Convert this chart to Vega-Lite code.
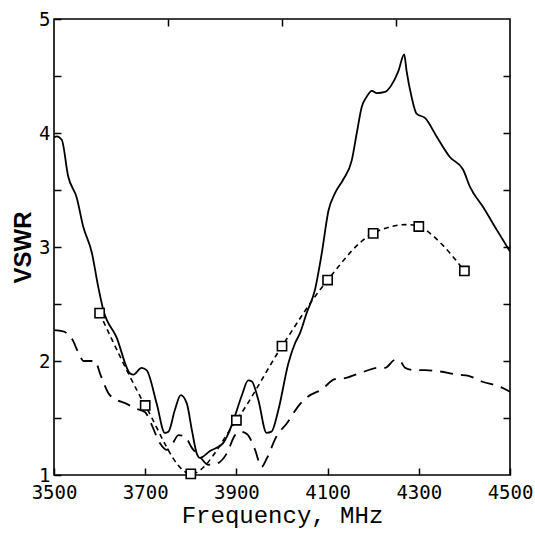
{
  "$schema": "https://vega.github.io/schema/vega-lite/v6.json",
  "autosize": "none",
  "width": 456,
  "height": 456,
  "padding": {"left": 54, "top": 19, "right": 25, "bottom": 58},
  "background": "white",
  "config": {
    "view": {"stroke": "black", "strokeWidth": 1.6},
    "axis": {
      "grid": false,
      "domain": false,
      "tickColor": "black",
      "tickWidth": 1.5,
      "tickSize": -7,
      "labelFlush": false,
      "labelColor": "black",
      "labelFont": "DejaVu Sans Mono",
      "labelFontSize": 19,
      "titleColor": "black"
    }
  },
  "datasets": {
    "solid": [
      {"f": 3500, "v": 3.96}, {"f": 3506, "v": 3.97}, {"f": 3517, "v": 3.94}, {"f": 3531, "v": 3.62},
      {"f": 3550, "v": 3.43}, {"f": 3564, "v": 3.18}, {"f": 3583, "v": 2.95}, {"f": 3597, "v": 2.65},
      {"f": 3608, "v": 2.45}, {"f": 3637, "v": 2.21}, {"f": 3667, "v": 1.89}, {"f": 3674, "v": 1.88},
      {"f": 3692, "v": 1.94}, {"f": 3703, "v": 1.92}, {"f": 3725, "v": 1.63}, {"f": 3743, "v": 1.37},
      {"f": 3751, "v": 1.38}, {"f": 3765, "v": 1.57}, {"f": 3778, "v": 1.70}, {"f": 3791, "v": 1.63},
      {"f": 3803, "v": 1.38}, {"f": 3813, "v": 1.19}, {"f": 3820, "v": 1.15}, {"f": 3842, "v": 1.21},
      {"f": 3871, "v": 1.28}, {"f": 3882, "v": 1.36}, {"f": 3897, "v": 1.52}, {"f": 3912, "v": 1.70},
      {"f": 3926, "v": 1.83}, {"f": 3934, "v": 1.82}, {"f": 3948, "v": 1.66}, {"f": 3966, "v": 1.37},
      {"f": 3977, "v": 1.38}, {"f": 3992, "v": 1.57}, {"f": 4014, "v": 1.98}, {"f": 4029, "v": 2.16},
      {"f": 4039, "v": 2.24}, {"f": 4054, "v": 2.42}, {"f": 4072, "v": 2.62}, {"f": 4087, "v": 2.94},
      {"f": 4102, "v": 3.32}, {"f": 4116, "v": 3.47}, {"f": 4134, "v": 3.59}, {"f": 4153, "v": 3.76},
      {"f": 4164, "v": 4.00}, {"f": 4175, "v": 4.23}, {"f": 4186, "v": 4.32}, {"f": 4197, "v": 4.37},
      {"f": 4208, "v": 4.35}, {"f": 4226, "v": 4.36}, {"f": 4240, "v": 4.42}, {"f": 4255, "v": 4.54},
      {"f": 4268, "v": 4.69}, {"f": 4273, "v": 4.55}, {"f": 4284, "v": 4.32}, {"f": 4295, "v": 4.17},
      {"f": 4314, "v": 4.13}, {"f": 4339, "v": 3.97}, {"f": 4368, "v": 3.79}, {"f": 4397, "v": 3.68},
      {"f": 4412, "v": 3.53}, {"f": 4441, "v": 3.35}, {"f": 4471, "v": 3.15}, {"f": 4500, "v": 2.96}
    ],
    "dashed": [
      {"f": 3500, "v": 2.27}, {"f": 3520, "v": 2.26}, {"f": 3540, "v": 2.19}, {"f": 3555, "v": 2.06},
      {"f": 3565, "v": 2.00}, {"f": 3590, "v": 2.00}, {"f": 3601, "v": 1.89}, {"f": 3619, "v": 1.72},
      {"f": 3637, "v": 1.66}, {"f": 3656, "v": 1.63}, {"f": 3681, "v": 1.58}, {"f": 3700, "v": 1.55},
      {"f": 3711, "v": 1.47}, {"f": 3732, "v": 1.28}, {"f": 3747, "v": 1.22}, {"f": 3758, "v": 1.26},
      {"f": 3773, "v": 1.35}, {"f": 3787, "v": 1.34}, {"f": 3802, "v": 1.24}, {"f": 3820, "v": 1.16},
      {"f": 3838, "v": 1.09}, {"f": 3857, "v": 1.10}, {"f": 3879, "v": 1.19}, {"f": 3897, "v": 1.35},
      {"f": 3908, "v": 1.38}, {"f": 3923, "v": 1.36}, {"f": 3941, "v": 1.22}, {"f": 3955, "v": 1.07},
      {"f": 3966, "v": 1.14}, {"f": 3988, "v": 1.34}, {"f": 4010, "v": 1.45}, {"f": 4039, "v": 1.62},
      {"f": 4058, "v": 1.69}, {"f": 4087, "v": 1.75}, {"f": 4116, "v": 1.84}, {"f": 4138, "v": 1.85},
      {"f": 4182, "v": 1.91}, {"f": 4211, "v": 1.94}, {"f": 4226, "v": 1.94}, {"f": 4248, "v": 2.01},
      {"f": 4259, "v": 2.00}, {"f": 4270, "v": 1.94}, {"f": 4292, "v": 1.92}, {"f": 4314, "v": 1.92},
      {"f": 4343, "v": 1.91}, {"f": 4387, "v": 1.88}, {"f": 4409, "v": 1.87}, {"f": 4438, "v": 1.82},
      {"f": 4474, "v": 1.78}, {"f": 4500, "v": 1.73}
    ],
    "measured": [
      {"f": 3600, "v": 2.42}, {"f": 3700, "v": 1.61}, {"f": 3800, "v": 1.01}, {"f": 3900, "v": 1.48},
      {"f": 4000, "v": 2.13}, {"f": 4100, "v": 2.71}, {"f": 4200, "v": 3.12}, {"f": 4300, "v": 3.18},
      {"f": 4400, "v": 2.79}
    ]
  },
  "resolve": {"axis": {"x": "independent", "y": "independent"}},
  "layer": [
    {
      "data": {"name": "solid"},
      "mark": {"type": "line", "color": "black", "strokeWidth": 1.8, "interpolate": "monotone", "clip": true},
      "encoding": {
        "x": {"field": "f", "type": "quantitative", "scale": {"domain": [3500, 4500], "nice": false},
          "axis": {"orient": "bottom", "values": [3500, 3700, 3900, 4100, 4300, 4500], "format": "d",
            "labelPadding": 15, "title": "Frequency, MHz", "titleFont": "Liberation Mono",
            "titleFontSize": 24, "titleFontWeight": "normal", "titlePadding": 1}},
        "y": {"field": "v", "type": "quantitative", "scale": {"domain": [1, 5], "nice": false},
          "axis": {"orient": "left", "values": [1, 1.5, 2, 2.5, 3, 3.5, 4, 4.5, 5],
            "labelExpr": "datum.value % 1 === 0 ? format(datum.value, 'd') : ''",
            "labelPadding": 11, "title": "VSWR", "titleFont": "Liberation Sans",
            "titleFontSize": 24, "titleFontWeight": "bold", "titlePadding": 3}}
      }
    },
    {
      "data": {"name": "dashed"},
      "mark": {"type": "line", "color": "black", "strokeWidth": 1.8, "strokeDash": [13, 8], "interpolate": "monotone", "clip": true},
      "encoding": {
        "x": {"field": "f", "type": "quantitative",
          "axis": {"orient": "top", "values": [3750, 4000, 4250], "labels": false, "title": null}},
        "y": {"field": "v", "type": "quantitative",
          "axis": {"orient": "right", "values": [1.5, 2, 2.5, 3, 3.5, 4, 4.5], "labels": false, "title": null}}
      }
    },
    {
      "data": {"name": "measured"},
      "mark": {"type": "line", "color": "black", "strokeWidth": 1.6, "strokeDash": [5, 4], "interpolate": "catmull-rom"},
      "encoding": {
        "x": {"field": "f", "type": "quantitative", "axis": null},
        "y": {"field": "v", "type": "quantitative", "axis": null}
      }
    },
    {
      "data": {"name": "measured"},
      "mark": {"type": "point", "shape": "square", "filled": true, "fill": "white", "stroke": "black", "strokeWidth": 1.6, "size": 85, "opacity": 1},
      "encoding": {
        "x": {"field": "f", "type": "quantitative", "axis": null},
        "y": {"field": "v", "type": "quantitative", "axis": null}
      }
    }
  ]
}
